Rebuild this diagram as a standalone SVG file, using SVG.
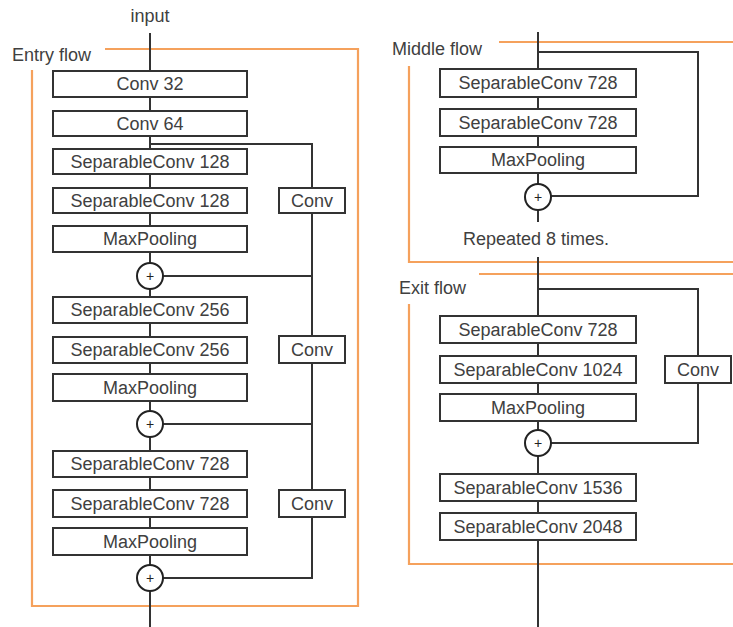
<svg xmlns="http://www.w3.org/2000/svg" width="733" height="627" viewBox="0 0 733 627">
<style>
.box{fill:#fff;stroke:#333;stroke-width:2}
.t{font-family:"Liberation Sans",Arial,sans-serif;font-size:18px;fill:#404040;text-anchor:middle}
.lbl{font-family:"Liberation Sans",Arial,sans-serif;font-size:18px;fill:#404040}
.ln{fill:none;stroke:#333;stroke-width:2}
.or{fill:none;stroke:#F5A15C;stroke-width:2.2}
.pc{fill:#fff;stroke:#222;stroke-width:2}
.pt{font-family:"Liberation Sans",Arial,sans-serif;font-size:14px;fill:#222;text-anchor:middle}
</style>
<rect width="733" height="627" fill="#fff"/>
<g id="frames">
<path class="or" d="M105 49 H358 V606 H32 V70"/>
<path class="or" d="M499 42 H733 M409 66 V262 H733"/>
<path class="or" d="M479 274 H733 M409 304 V564 H733"/>
</g>
<g id="labels">
<text class="t" x="150" y="22">input</text>
<text class="lbl" x="12" y="61">Entry flow</text>
<text class="lbl" x="392" y="55">Middle flow</text>
<text class="t" x="536" y="245">Repeated 8 times.</text>
<text class="lbl" x="399" y="294">Exit flow</text>
</g>
<g id="connectors">
<line class="ln" x1="150" y1="33" x2="150" y2="627"/>
<path class="ln" d="M150 144 H312 V578 H150"/>
<path class="ln" d="M150 276 H312 M150 424 H312"/>
<line class="ln" x1="538" y1="32" x2="538" y2="222"/>
<path class="ln" d="M538 52 H698 V196 H538"/>
<line class="ln" x1="538" y1="257" x2="538" y2="627"/>
<path class="ln" d="M538 289 H698 V443 H538"/>
</g>
<g id="entry-nodes">
<g id="e-conv32"><rect class="box" x="53" y="71" width="194" height="26"/><text class="t" x="150" y="90">Conv 32</text></g>
<g id="e-conv64"><rect class="box" x="53" y="111" width="194" height="25"/><text class="t" x="150" y="130">Conv 64</text></g>
<g id="e-sep128a"><rect class="box" x="53" y="149" width="194" height="25"/><text class="t" x="150" y="168">SeparableConv 128</text></g>
<g id="e-sep128b"><rect class="box" x="53" y="188" width="194" height="25"/><text class="t" x="150" y="207">SeparableConv 128</text></g>
<g id="e-pool1"><rect class="box" x="53" y="226" width="194" height="26"/><text class="t" x="150" y="245">MaxPooling</text></g>
<g id="e-add1"><circle class="pc" cx="150" cy="276" r="13"/><text class="pt" x="150" y="281">+</text></g>
<g id="e-sep256a"><rect class="box" x="53" y="297" width="194" height="26"/><text class="t" x="150" y="316">SeparableConv 256</text></g>
<g id="e-sep256b"><rect class="box" x="53" y="337" width="194" height="26"/><text class="t" x="150" y="356">SeparableConv 256</text></g>
<g id="e-pool2"><rect class="box" x="53" y="374" width="194" height="27"/><text class="t" x="150" y="394">MaxPooling</text></g>
<g id="e-add2"><circle class="pc" cx="150" cy="424" r="13"/><text class="pt" x="150" y="429">+</text></g>
<g id="e-sep728a"><rect class="box" x="53" y="451" width="194" height="26"/><text class="t" x="150" y="470">SeparableConv 728</text></g>
<g id="e-sep728b"><rect class="box" x="53" y="490" width="194" height="27"/><text class="t" x="150" y="510">SeparableConv 728</text></g>
<g id="e-pool3"><rect class="box" x="53" y="528" width="194" height="27"/><text class="t" x="150" y="548">MaxPooling</text></g>
<g id="e-add3"><circle class="pc" cx="150" cy="578" r="13"/><text class="pt" x="150" y="583">+</text></g>
<g id="e-conv-a"><rect class="box" x="279" y="188" width="66" height="25"/><text class="t" x="312" y="207">Conv</text></g>
<g id="e-conv-b"><rect class="box" x="279" y="336" width="66" height="27"/><text class="t" x="312" y="356">Conv</text></g>
<g id="e-conv-c"><rect class="box" x="279" y="490" width="66" height="27"/><text class="t" x="312" y="510">Conv</text></g>
</g>
<g id="middle-nodes">
<g id="m-sep728a"><rect class="box" x="440" y="69" width="196" height="28"/><text class="t" x="538" y="89">SeparableConv 728</text></g>
<g id="m-sep728b"><rect class="box" x="440" y="109" width="196" height="27"/><text class="t" x="538" y="129">SeparableConv 728</text></g>
<g id="m-pool"><rect class="box" x="440" y="147" width="196" height="26"/><text class="t" x="538" y="166">MaxPooling</text></g>
<g id="m-add"><circle class="pc" cx="538" cy="197" r="13"/><text class="pt" x="538" y="202">+</text></g>
</g>
<g id="exit-nodes">
<g id="x-sep728"><rect class="box" x="440" y="316" width="196" height="27"/><text class="t" x="538" y="336">SeparableConv 728</text></g>
<g id="x-sep1024"><rect class="box" x="440" y="356" width="196" height="27"/><text class="t" x="538" y="376">SeparableConv 1024</text></g>
<g id="x-pool"><rect class="box" x="440" y="394" width="196" height="27"/><text class="t" x="538" y="414">MaxPooling</text></g>
<g id="x-add"><circle class="pc" cx="538" cy="443" r="13"/><text class="pt" x="538" y="448">+</text></g>
<g id="x-sep1536"><rect class="box" x="440" y="474" width="196" height="27"/><text class="t" x="538" y="494">SeparableConv 1536</text></g>
<g id="x-sep2048"><rect class="box" x="440" y="513" width="196" height="27"/><text class="t" x="538" y="533">SeparableConv 2048</text></g>
<g id="x-conv"><rect class="box" x="665" y="356" width="66" height="27"/><text class="t" x="698" y="376">Conv</text></g>
</g>
</svg>
